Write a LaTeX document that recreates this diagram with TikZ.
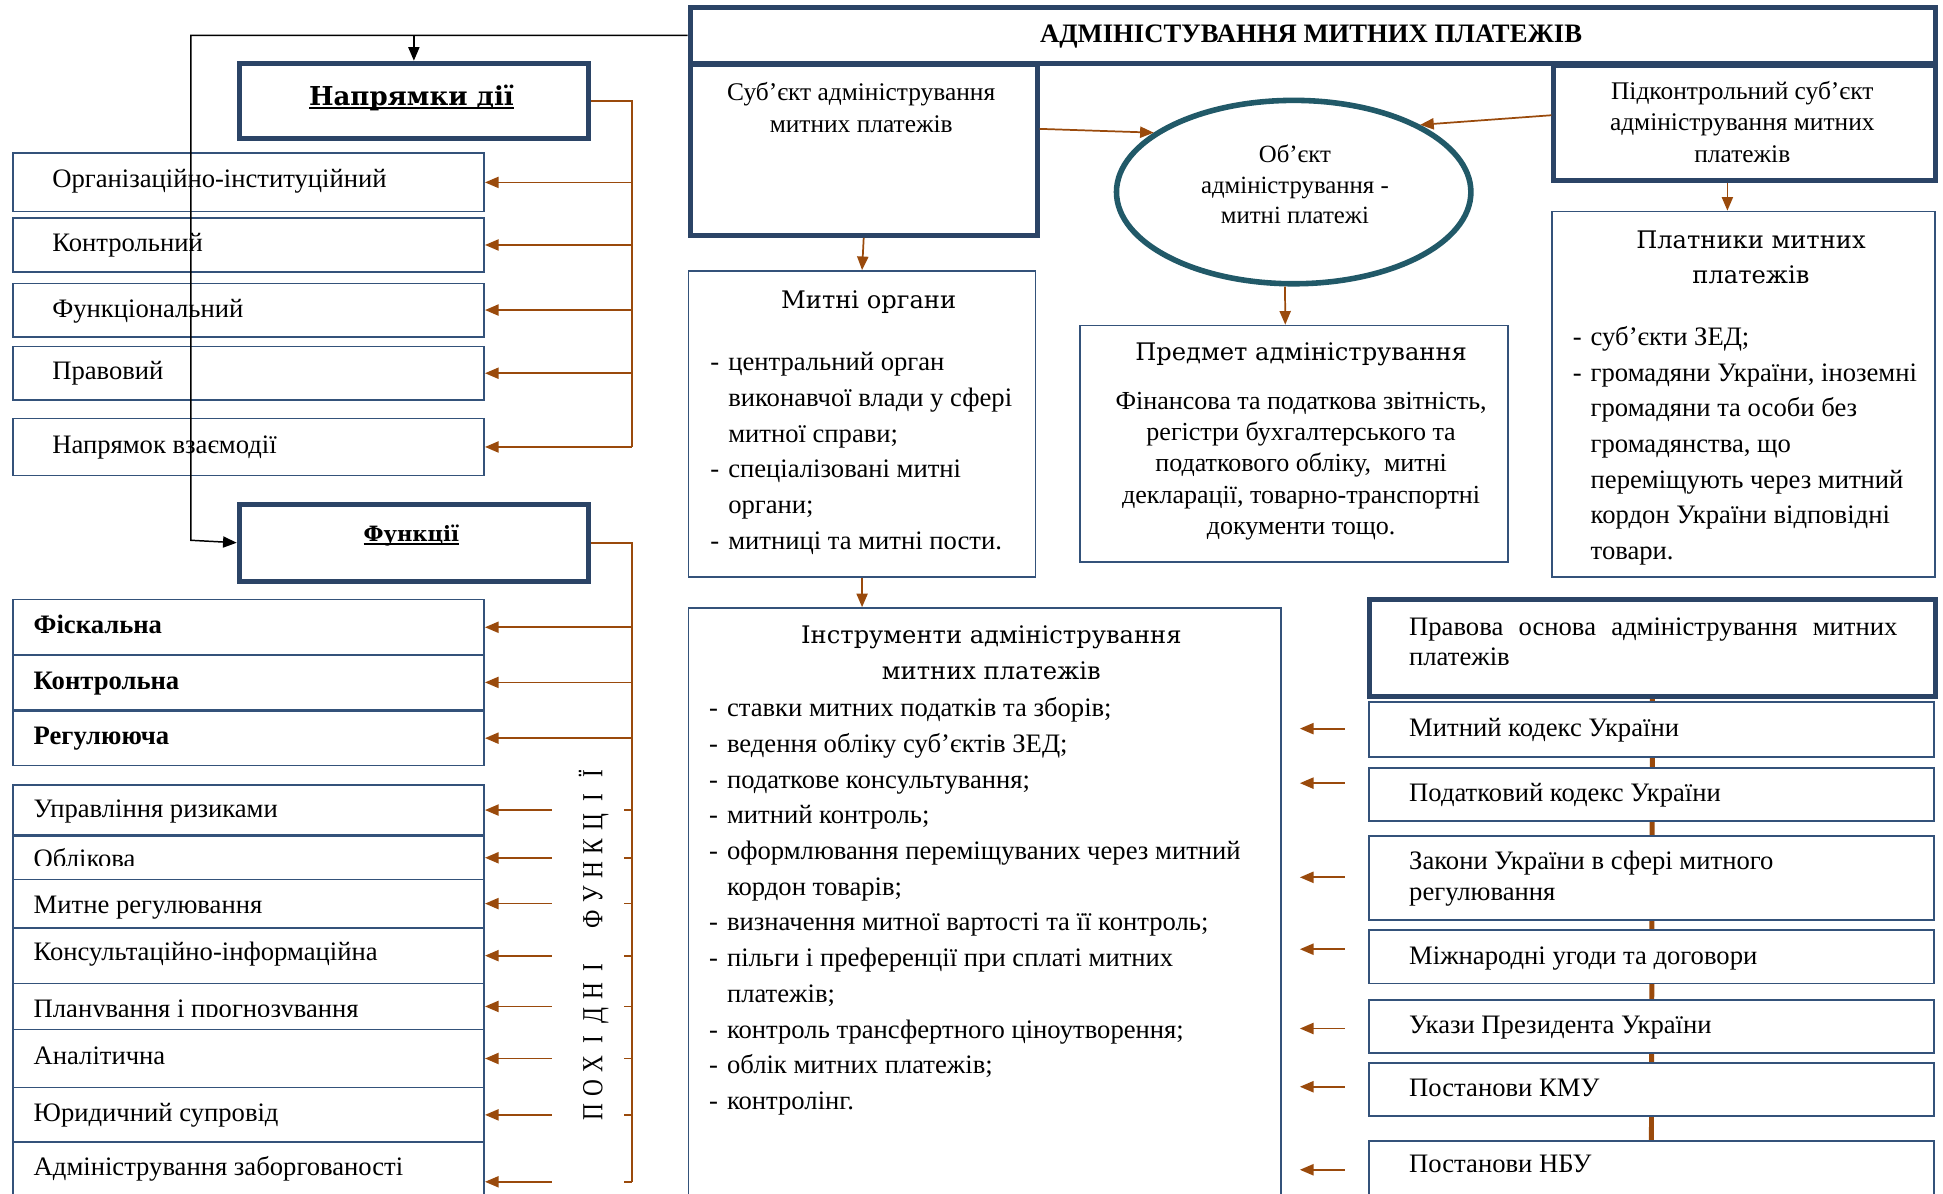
\documentclass[tikz,border=0pt]{standalone}
\usepackage{fontspec}
\usepackage{graphicx}
\setmainfont{Liberation Serif}
\newfontfamily\hdr{DejaVu Serif}
\usetikzlibrary{arrows.meta,shapes.geometric,backgrounds}
\definecolor{navy}{HTML}{2B4466}
\definecolor{navyl}{HTML}{34527A}
\definecolor{brn}{HTML}{9A4A0C}
\definecolor{tealc}{HTML}{215968}
\newcommand{\fb}{\fontsize{21.5}{28.9}\selectfont}
\newcommand{\fh}{\hdr\fontsize{19.5}{28.5}\selectfont}
\newcommand{\di}{\makebox[14.5pt][l]{-}}
\newcommand{\ci}{\hspace*{14.5pt}}
\newcommand{\lb}[1]{\makebox[19.5pt]{\scalebox{0.8}[1]{#1}}}
\newcommand{\uln}[1]{\setbox0\hbox{#1}\rlap{\rule[-3pt]{\wd0}{1.6pt}}\box0}
\newcommand{\bx}[6]{\node[#1,anchor=north west,minimum width={#5-#3},minimum height={#6-#4}] (#2) at (#3,#4) {};}
\begin{document}
\begin{tikzpicture}[x=1pt,y=-1pt,
  thickb/.style={draw=navy,line width=4pt,fill=white,inner sep=0pt,rectangle},
  thinb/.style={draw=navyl,line width=1.4pt,fill=white,inner sep=0pt,rectangle},
  lt/.style={inner sep=0pt,anchor=base west,align=left,font=\fb},
  ct/.style={inner sep=0pt,anchor=base,align=center},
  bl/.style={draw=brn,line width=1.4pt},
  ba/.style={bl,-{Triangle[length=11pt,width=9pt]}},
  ka/.style={draw=black,line width=1.2pt,-{Triangle[length=11pt,width=9pt]}}]
\useasboundingbox (0,0) rectangle (1568,963);
\begin{scope}[on background layer]
\fill[white] (0,0) rectangle (1568,963);
\end{scope}

% ---------- central and right boxes
\bx{thickb}{title}{555}{4}{1560}{49}
\bx{thickb}{subj}{555}{50}{835}{188}
\bx{thickb}{pidk}{1252}{51}{1560}{144}
\node[draw=tealc,line width=4.5pt,ellipse,minimum width=286,minimum height=148,inner sep=0pt,fill=white] (ell) at (1044,155) {};
\bx{thinb}{mo}{555}{218}{835}{465}
\bx{thinb}{pred}{871}{262}{1216}{453}
\bx{thinb}{plat}{1252}{170}{1561}{465}
\bx{thinb}{instr}{555}{490}{1033}{985}
\bx{thickb}{prav}{1103}{482}{1560}{560}
\bx{thinb}{l1}{1104}{566}{1560}{610}
\bx{thinb}{l2}{1104}{619}{1560}{662}
\bx{thinb}{l3}{1104}{674}{1560}{742}
\bx{thinb}{l4}{1104}{750}{1560}{793}
\bx{thinb}{l5}{1104}{806}{1560}{849}
\bx{thinb}{l6}{1104}{857}{1560}{900}
\bx{thinb}{l7}{1104}{920}{1560}{985}

% ---------- left boxes
\bx{thickb}{napr}{191}{49}{473}{110}
\bx{thinb}{n1}{10}{123}{390}{170}
\bx{thinb}{n2}{10}{175}{390}{219}
\bx{thinb}{n3}{10}{228}{390}{271}
\bx{thinb}{n4}{10}{279}{390}{322}
\bx{thinb}{n5}{10}{337}{390}{383}
\bx{thickb}{funk}{191}{405}{473}{467}
\bx{thinb}{f1}{10}{483}{390}{528}
\bx{thinb}{f2}{10}{528}{390}{572}
\bx{thinb}{f3}{10}{573}{390}{617}
\bx{thinb}{f4}{10}{633}{390}{673}
\bx{thinb}{f5}{10}{674}{390}{709}
\bx{thinb}{f6}{10}{709}{390}{748}
\bx{thinb}{f7}{10}{748}{390}{793}
\bx{thinb}{f8}{10}{793}{390}{830}
\bx{thinb}{f9}{10}{830}{390}{877}
\bx{thinb}{f10}{10}{877}{390}{921}
\bx{thinb}{f11}{10}{921}{390}{985}

\begin{scope}[on background layer]
\draw[brn,line width=4pt] (prav.south) -- (l7.north);
\end{scope}

% ---------- texts (multi-line nodes: base = last line)
\node[ct,font=\bfseries\fontsize{21.5}{26}\selectfont] (ttl) at (1058,34) {АДМІНІСТУВАННЯ МИТНИХ ПЛАТЕЖІВ};
\node[ct,font=\hdr\bfseries\fontsize{21}{25}\selectfont] (tnapr) at (332,85) {\uln{Напрямки дії}};
\node[ct,font=\hdr\bfseries\fontsize{17}{20}\selectfont] (tfunk) at (332,437) {\uln{Функції}};

\node[lt] (tn1) at (42,151) {Організаційно-інституційний};
\node[lt] (tn2) at (42,203) {Контрольний};
\node[lt] (tn3) at (42,256) {Функціональний};
\node[lt] (tn4) at (42,306.5) {Правовий};
\node[lt] (tn5) at (42,366) {Напрямок взаємодії};

\node[lt] (tf1) at (27,511) {\bfseries Фіскальна};
\node[lt] (tf2) at (27,556.5) {\bfseries Контрольна};
\node[lt] (tf3) at (27,601) {\bfseries Регулююча};
\node[lt] (tf4) at (27,660) {Управління ризиками};
\begin{scope}
\clip (0,670) rectangle (395,698.5);
\node[lt] (tf5) at (27,700) {Облікова};
\end{scope}
\node[lt] (tf6) at (27,737) {Митне регулювання};
\node[lt] (tf7) at (27,775) {Консультаційно-інформаційна};
\begin{scope}
\clip (0,795) rectangle (395,820);
\node[lt] (tf8) at (27,821) {Планування і прогнозування};
\end{scope}
\node[lt] (tf9) at (27,859) {Аналітична};
\node[lt] (tf10) at (27,905) {Юридичний супровід};
\node[lt] (tf11) at (27,949) {Адміністрування заборгованості};

\node[inner sep=0pt,rotate=90,font=\fontsize{23.5}{24}\selectfont] (tpoh) at (479,761)
  {\lb{П}\lb{О}\lb{Х}\lb{І}\lb{Д}\lb{Н}\lb{І}\lb{}\lb{Ф}\lb{У}\lb{Н}\lb{К}\lb{Ц}\lb{І}\lb{Ї}};

\node[ct,font=\fontsize{20.5}{26}\selectfont] (tsubj) at (695,107) {Суб’єкт адміністрування\\митних платежів};
\node[ct,font=\fontsize{20}{24.5}\selectfont] (tell) at (1045,180.5) {Об’єкт\\адміністрування -\\митні платежі};
\node[ct,font=\fontsize{20.5}{25.6}\selectfont] (tpidk) at (1406,131.2) {Підконтрольний суб’єкт\\адміністрування митних\\платежів};

\node[ct,font=\fh] (tmo) at (701,249) {Митні органи};
\node[lt] (tmoi) at (573,443.5) {\di центральний орган\\\ci виконавчої влади у сфері\\\ci митної справи;\\\di спеціалізовані митні\\\ci органи;\\\di митниці та митні пости.};

\node[ct,font=\fh] (tpred) at (1050,291) {Предмет адміністрування};
\node[ct,font=\fontsize{21}{25.2}\selectfont] (tpredb) at (1050,431.3) {Фінансова та податкова звітність,\\регістри бухгалтерського та\\податкового обліку,\ \ митні\\декларації, товарно-транспортні\\документи тощо.};

\node[ct,font=\fh] (tplat) at (1413,229) {Платники митних\\платежів};
\node[lt,font=\fontsize{21.5}{28.75}\selectfont] (tplati) at (1269,451.5) {\di суб’єкти ЗЕД;\\\di громадяни України, іноземні\\\ci громадяни та особи без\\\ci громадянства, що\\\ci переміщують через митний\\\ci кордон України відповідні\\\ci товари.};

\node[ct,font=\hdr\fontsize{19.5}{29}\selectfont] (tinstr) at (800,548) {Інструменти адміністрування\\митних платежів};
\node[lt,font=\fontsize{21.5}{28.8}\selectfont] (tinstri) at (572,895.3) {\di ставки митних податків та зборів;\\\di ведення обліку суб’єктів ЗЕД;\\\di податкове консультування;\\\di митний контроль;\\\di оформлювання переміщуваних через митний\\\ci кордон товарів;\\\di визначення митної вартості та її контроль;\\\di пільги і преференції при сплаті митних\\\ci платежів;\\\di контроль трансфертного ціноутворення;\\\di облік митних платежів;\\\di контролінг.};

\node[lt,font=\fontsize{21.5}{24.2}\selectfont] (tprav) at (1137,536.8) {\makebox[394pt][s]{Правова основа адміністрування митних}\\платежів};
\node[lt] (tl1) at (1137,594.4) {Митний кодекс України};
\node[lt] (tl2) at (1137,647) {Податковий кодекс України};
\node[lt,font=\fontsize{21.5}{25}\selectfont] (tl3) at (1137,727) {Закони України в сфері митного\\регулювання};
\node[lt] (tl4) at (1137,778) {Міжнародні угоди та договори};
\node[lt] (tl5) at (1137,834) {Укази Президента України};
\node[lt] (tl6) at (1137,884.7) {Постанови КМУ};
\node[lt] (tl7) at (1137,946) {Постанови НБУ};

% ---------- connectors
\coordinate (kc) at (154,436);
\draw[ka] (title.west) -| (kc) -- (funk.west);
\draw[ka] (napr.north |- title.west) -- (napr.north);

\coordinate (bus) at (510,0);
\draw[bl] (napr.east) -- (bus |- napr.east) -- (bus |- n5.east);
\foreach \n in {n1,n2,n3,n4,n5} \draw[ba] (bus |- \n.east) -- (\n.east);
\draw[bl] (funk.east) -- (bus |- funk.east) -- (bus |- f11.east);
\foreach \n in {f1,f2,f3} \draw[ba] (bus |- \n.east) -- (\n.east);
\foreach \n in {f4,f5,f6,f7,f8,f9,f10,f11} {
  \draw[bl] (bus |- \n.east) -- ++(-6.5,0);
  \draw[ba] ([xshift=54pt]\n.east) -- (\n.east);
}

\draw[ba] ([yshift=17pt]subj.east) -- (ell.157);
\draw[ba] ([yshift=6.5pt]pidk.west) -- (ell.28);
\draw[ba] (subj.south) -- (mo.north);
\draw[ba] (mo.south) -- (mo.south |- instr.north);
\draw[ba] ([xshift=-7pt]ell.south) -- ([xshift=-7pt]pred.north);
\draw[ba] ([xshift=-14pt]pidk.south) -- ([xshift=-14pt]pidk.south |- plat.north);

\foreach \y [count=\i] in {588,632,708,766,830,877,944} {
  \coordinate (la\i) at (1085,\y);
  \coordinate (lb\i) at (1049,\y);
  \draw[ba] (la\i) -- (lb\i);
}
\end{tikzpicture}
\end{document}
